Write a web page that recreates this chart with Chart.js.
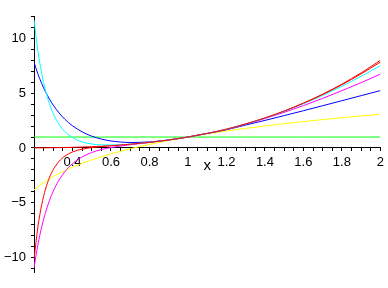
<!DOCTYPE html>
<html>
<head>
<meta charset="utf-8">
<script src="https://cdn.jsdelivr.net/npm/chart.js@4/dist/chart.umd.min.js"></script>
<style>
  html, body { margin: 0; padding: 0; background: #ffffff; }
  #wrap { width: 388px; height: 288px; }
</style>
</head>
<body>
<div id="wrap"><canvas id="c" width="388" height="288"></canvas></div>
<script>
// Sample x positions
const xs = [0.2, 0.22, 0.24, 0.26, 0.28, 0.3, 0.33, 0.36, 0.4, 0.45, 0.5, 0.55, 0.6, 0.7, 0.8, 0.9, 1.0, 1.1, 1.2, 1.3, 1.4, 1.5, 1.6, 1.7, 1.8, 1.9, 2.0];

// Series values
const curveF = [0.008, 0.011, 0.014, 0.018, 0.022, 0.027, 0.036, 0.047, 0.064, 0.091, 0.125, 0.166, 0.216, 0.343, 0.512, 0.729, 1, 1.331, 1.728, 2.197, 2.744, 3.375, 4.096, 4.913, 5.832, 6.859, 8.0];
const curve0 = [1, 1, 1, 1, 1, 1, 1, 1, 1, 1, 1, 1, 1, 1, 1, 1, 1, 1, 1, 1, 1, 1, 1, 1, 1, 1, 1];
const curve1 = [-3.828, -3.542, -3.281, -3.041, -2.819, -2.612, -2.326, -2.065, -1.749, -1.396, -1.079, -0.794, -0.532, -0.070, 0.331, 0.684, 1, 1.286, 1.547, 1.787, 2.009, 2.216, 2.410, 2.592, 2.763, 2.926, 3.079];
const curve2 = [7.828, 6.774, 5.884, 5.125, 4.473, 3.911, 3.205, 2.632, 2.029, 1.474, 1.083, 0.815, 0.642, 0.503, 0.555, 0.734, 1, 1.327, 1.667, 2.097, 2.519, 2.956, 3.404, 3.859, 4.318, 4.780, 5.241];
const curve3 = [-10.932, -8.847, -7.196, -5.875, -4.809, -3.942, -2.927, -2.167, -1.433, -0.817, -0.416, -0.147, 0.042, 0.298, 0.505, 0.729, 1, 1.331, 1.694, 2.178, 2.690, 3.256, 3.871, 4.531, 5.232, 5.969, 6.740];
const curve4 = [11.713, 8.892, 6.804, 5.238, 4.053, 3.149, 2.172, 1.510, 0.947, 0.555, 0.363, 0.284, 0.272, 0.353, 0.513, 0.729, 1, 1.331, 1.698, 2.194, 2.734, 3.347, 4.036, 4.799, 5.635, 6.542, 7.519];
const curve5 = [-10.155, -7.223, -5.184, -3.744, -2.716, -1.974, -1.220, -0.744, -0.362, -0.103, 0.039, 0.130, 0.201, 0.341, 0.512, 0.729, 1, 1.331, 1.698, 2.197, 2.742, 3.370, 4.082, 4.884, 5.777, 6.763, 7.843];

// Tick labels
const xTickLabels = [0.4, 0.6, 0.8, 1, 1.2, 1.4, 1.6, 1.8, 2];
const yTickLabels = [-10, -5, 0, 5, 10];
const xAxisTitle = 'x';

const series = [
  { values: curveF, color: '#ff0000' },
  { values: curve0, color: '#00ff00' },
  { values: curve1, color: '#ffff00' },
  { values: curve2, color: '#0000ff' },
  { values: curve3, color: '#ff00ff' },
  { values: curve4, color: '#00ffff' },
  { values: curve5, color: '#ff0000' }
];

const FONT = { family: '"Liberation Sans", Arial, Helvetica, sans-serif', size: 13 };

const datasets = series.map((s, k) => ({
  data: xs.map((x, i) => ({ x: x, y: s.values[i] })),
  borderColor: s.color,
  borderWidth: 1,
  pointRadius: 0,
  fill: false,
  cubicInterpolationMode: 'monotone',
  order: series.length - k
}));

const xTitlePlugin = {
  id: 'xTitle',
  afterDraw(chart) {
    const ctx = chart.ctx;
    const area = chart.chartArea;
    const y0 = chart.scales.y.getPixelForValue(0);
    ctx.save();
    ctx.font = '15px ' + FONT.family;
    ctx.fillStyle = '#000';
    ctx.textAlign = 'center';
    ctx.textBaseline = 'middle';
    ctx.fillText(xAxisTitle, (area.left + area.right) / 2, y0 + 18);
    ctx.restore();
  }
};

function near(v, list) {
  for (const t of list) if (Math.abs(v - t) < 1e-6) return t;
  return null;
}

new Chart(document.getElementById('c'), {
  type: 'line',
  data: { datasets: datasets },
  options: {
    responsive: false,
    animation: false,
    events: [],
    layout: { padding: { left: 0, right: 7, top: 16, bottom: 16 } },
    plugins: { legend: { display: false }, tooltip: { enabled: false } },
    scales: {
      x: {
        type: 'linear',
        position: { y: 0 },
        min: 0.2,
        max: 2,
        z: 1,
        afterFit(s) { s.height = 0; },
        border: { display: true, color: '#000', width: 1 },
        grid: { display: true, drawOnChartArea: false, drawTicks: true, tickLength: 3, tickColor: '#000' },
        ticks: {
          stepSize: 0.05,
          autoSkip: false,
          maxRotation: 0,
          includeBounds: false,
          padding: 4,
          color: '#000',
          font: FONT,
          callback(v) { const t = near(v, xTickLabels); return t === null ? '' : String(t); }
        }
      },
      y: {
        type: 'linear',
        position: 'left',
        min: -11.32,
        max: 12.05,
        z: 1,
        afterFit(s) { s.width = 34; },
        border: { display: true, color: '#000', width: 1 },
        grid: { display: true, drawOnChartArea: false, drawTicks: true, tickLength: 3, tickColor: '#000' },
        ticks: {
          stepSize: 1,
          autoSkip: false,
          includeBounds: false,
          padding: 5,
          color: '#000',
          font: FONT,
          callback(v) { const t = near(v, yTickLabels); return t === null ? '' : (t < 0 ? '\u2212' + Math.abs(t) : String(t)); }
        }
      }
    }
  },
  plugins: [xTitlePlugin]
});
</script>
</body>
</html>
